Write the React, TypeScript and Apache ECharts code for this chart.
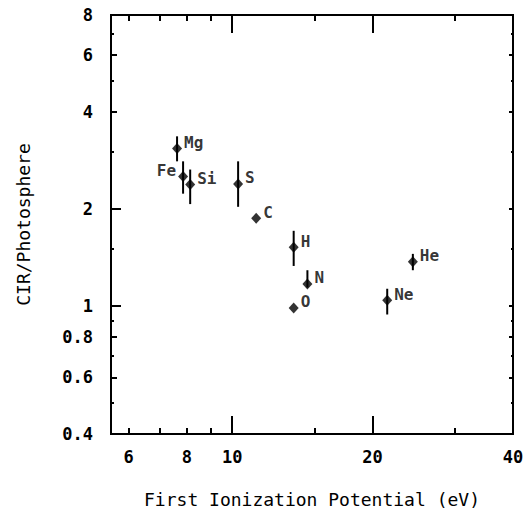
import React, { useEffect, useRef } from "react";
import * as echarts from "echarts";

const elements = ["Mg", "Fe", "Si", "S", "C", "H", "N", "O", "Ne", "He"];
const fip = [7.62, 7.85, 8.13, 10.3, 11.26, 13.55, 14.5, 13.55, 21.5, 24.4];
const ratio = [3.08, 2.52, 2.38, 2.39, 1.87, 1.52, 1.17, 0.985, 1.04, 1.37];
const errHi = [3.36, 2.81, 2.65, 2.81, null, 1.71, 1.29, null, 1.13, 1.45];
const errLo = [2.81, 2.23, 2.07, 2.03, null, 1.33, 1.14, null, 0.94, 1.29];
const labelLeft = ["Fe"];

const xTickLabels = [6, 8, 10, 20, 40];
const xLongTicks = [10, 20];
const xShortTicks = [6, 7, 8, 9, 15, 30];
const yTickLabels = [0.4, 0.6, 0.8, 1, 2, 4, 6, 8];
const yLongTicks = [1, 2];
const yMedTicks = [0.4, 0.6, 0.8, 4, 6, 8];
const ySmallTicks = [0.5, 0.7, 0.9, 1.5, 3, 5, 7];

const X_MIN = 5.5;
const X_MAX = 40;
const Y_MIN = 0.4;
const Y_MAX = 8;

const MONO = "'DejaVu Sans Mono', 'Liberation Mono', monospace";

export default function App() {
  const ref = useRef<HTMLDivElement>(null);
  useEffect(() => {
    document.body.style.margin = "0";
    const chart = echarts.init(ref.current!, null, { renderer: "svg" });
    const baseX = (position: string, ticks: number[], len: number, extra: any = {}) => ({
      type: "log",
      logBase: 10,
      min: X_MIN,
      max: X_MAX,
      position,
      axisLine: { show: false },
      splitLine: { show: false },
      axisTick: { show: true, inside: true, length: len, customValues: ticks, lineStyle: { color: "#000", width: 2 } },
      axisLabel: { show: false },
      ...extra,
    });
    const baseY = (position: string, ticks: number[], len: number, extra: any = {}) => ({
      type: "log",
      logBase: 10,
      min: Y_MIN,
      max: Y_MAX,
      position,
      axisLine: { show: false },
      splitLine: { show: false },
      axisTick: { show: true, inside: true, length: len, customValues: ticks, lineStyle: { color: "#000", width: 2 } },
      axisLabel: { show: false },
      ...extra,
    });
    const labelStyle = { color: "#000", fontFamily: MONO, fontWeight: "bold", fontSize: 17 };
    const nameStyle = { color: "#000", fontFamily: MONO, fontSize: 18 };

    const pointData = elements.map((el, i) => ({
      value: [fip[i], ratio[i]],
      name: el,
      label: labelLeft.includes(el) ? { position: "left", offset: [0, -6] } : undefined,
    }));
    const errData = elements
      .map((el, i) => (errHi[i] != null ? [fip[i], errLo[i], errHi[i]] : null))
      .filter((d) => d !== null);

    chart.setOption({
      animation: false,
      backgroundColor: "#fff",
      grid: { left: 111, right: 15, top: 15, bottom: 79, show: true, borderColor: "#000", borderWidth: 2, backgroundColor: "transparent" },
      xAxis: [
        baseX("bottom", xShortTicks, 6, {
          name: "First Ionization Potential (eV)",
          nameLocation: "middle",
          nameGap: 56,
          nameTextStyle: nameStyle,
          axisLabel: { show: true, customValues: xTickLabels, margin: 14, ...labelStyle },
        }),
        baseX("bottom", xLongTicks, 18),
        baseX("top", xShortTicks, 6),
        baseX("top", xLongTicks, 18),
      ],
      yAxis: [
        baseY("left", yMedTicks, 6, {
          name: "CIR/Photosphere",
          nameLocation: "middle",
          nameGap: 79,
          nameTextStyle: nameStyle,
          axisLabel: { show: true, customValues: yTickLabels, margin: 18, ...labelStyle },
        }),
        baseY("left", yLongTicks, 10),
        baseY("left", ySmallTicks, 3),
        baseY("right", yTickLabels, 4),
        baseY("right", ySmallTicks, 2),
      ],
      series: [
        {
          type: "custom",
          xAxisIndex: 0,
          yAxisIndex: 0,
          encode: { x: 0, y: [1, 2] },
          data: errData,
          renderItem: (params: any, api: any) => {
            const x = api.value(0);
            const p1 = api.coord([x, api.value(1)]);
            const p2 = api.coord([x, api.value(2)]);
            return {
              type: "line",
              shape: { x1: p1[0], y1: p1[1], x2: p2[0], y2: p2[1] },
              style: { stroke: "#000", lineWidth: 2 },
            };
          },
          z: 2,
        },
        {
          type: "scatter",
          xAxisIndex: 0,
          yAxisIndex: 0,
          symbol: "diamond",
          symbolSize: [10, 11],
          itemStyle: { color: "#000" },
          data: pointData,
          z: 3,
          label: {
            show: true,
            position: "right",
            distance: 2,
            offset: [0, -6],
            formatter: "{b}",
            color: "#000",
            fontFamily: MONO,
            fontWeight: "bold",
            fontSize: 16,
          },
        },
      ],
    });
    return () => chart.dispose();
  }, []);
  return <div ref={ref} style={{ width: 528, height: 513 }} />;
}
